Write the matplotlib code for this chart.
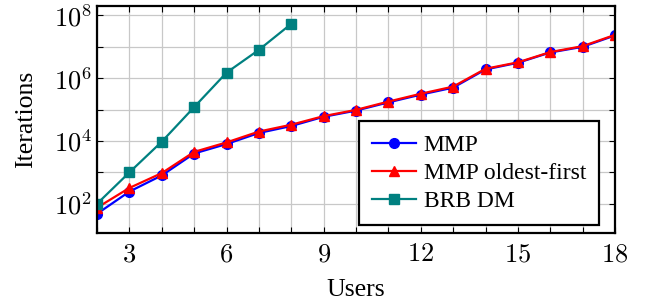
import math
import matplotlib
matplotlib.use("Agg")
import matplotlib.pyplot as plt
from matplotlib.ticker import FixedLocator, FuncFormatter

plt.rcParams['font.family'] = ['Liberation Serif', 'DejaVu Serif']
plt.rcParams['mathtext.fontset'] = 'cm'

# data
users = [2, 3, 4, 5, 6, 7, 8, 9, 10, 11, 12, 13, 14, 15, 16, 17, 18]
mmp = [48, 245, 800, 4000, 8000, 18000, 30000, 59000, 93000, 1.7e5, 3.0e5,
       5.0e5, 1.9e6, 3.1e6, 6.6e6, 1.0e7, 2.3e7]
mmp_oldest = [75, 320, 950, 4500, 9000, 20000, 33000, 62000, 98000, 1.8e5,
              3.2e5, 5.4e5, 2.0e6, 3.2e6, 6.8e6, 1.05e7, 2.4e7]
brb_users = [2, 3, 4, 5, 6, 7, 8]
brb_dm = [100, 1000, 9500, 1.2e5, 1.5e6, 8.0e6, 5.4e7]

xticks_lab = [3, 6, 9, 12, 15, 18]
yticks_lab = [1e2, 1e4, 1e6, 1e8]

fig = plt.figure(figsize=(6.54, 3.04), dpi=100)
ax = fig.add_axes([97/654, 1 - 233/304, (615-97)/654, (233-6)/304])

ax.plot(users, mmp, color='#0000ff', marker='o', markersize=7, lw=1.6, label='MMP')
ax.plot(users, mmp_oldest, color='#ff0000', marker='^', markersize=7, lw=1.6,
        label='MMP oldest-first')
ax.plot(brb_users, brb_dm, color='#008080', marker='s', markersize=7, lw=1.6,
        label='BRB DM')

ax.set_yscale('log')
ax.set_xlim(2, 18)
ax.set_ylim(10**1.07, 10**8.3)

ax.xaxis.set_major_locator(FixedLocator(xticks_lab))
ax.xaxis.set_minor_locator(FixedLocator(users))
ax.xaxis.set_major_formatter(FuncFormatter(lambda v, p: r'$%d$' % v))
ax.yaxis.set_major_locator(FixedLocator(yticks_lab))
ax.yaxis.set_minor_locator(FixedLocator([1e1, 1e3, 1e5, 1e7]))
ax.yaxis.set_major_formatter(FuncFormatter(lambda v, p: r'$10^{%d}$' % round(math.log10(v))))
ax.yaxis.set_minor_formatter(FuncFormatter(lambda v, p: ''))

ax.grid(True, which='both', color='#c8c8c8', lw=0.9)
ax.set_axisbelow(True)
ax.tick_params(which='both', direction='in', top=True, right=True, length=4,
               width=0.8, labelsize=19)
ax.tick_params(axis='x', pad=8)
for s in ax.spines.values():
    s.set_linewidth(1.6)

ax.set_xlabel('Users', fontsize=18.5, labelpad=9)
ax.set_ylabel('Iterations', fontsize=18.5, labelpad=12)

leg = ax.legend(loc='lower right', bbox_to_anchor=(0.969, 0.035), fontsize=17,
                fancybox=False, framealpha=1, edgecolor='black',
                handlelength=1.9, handletextpad=0.3, borderpad=0.55,
                labelspacing=0.28, borderaxespad=0)
leg.get_frame().set_linewidth(1.6)

fig.savefig('out.png', dpi=100)
